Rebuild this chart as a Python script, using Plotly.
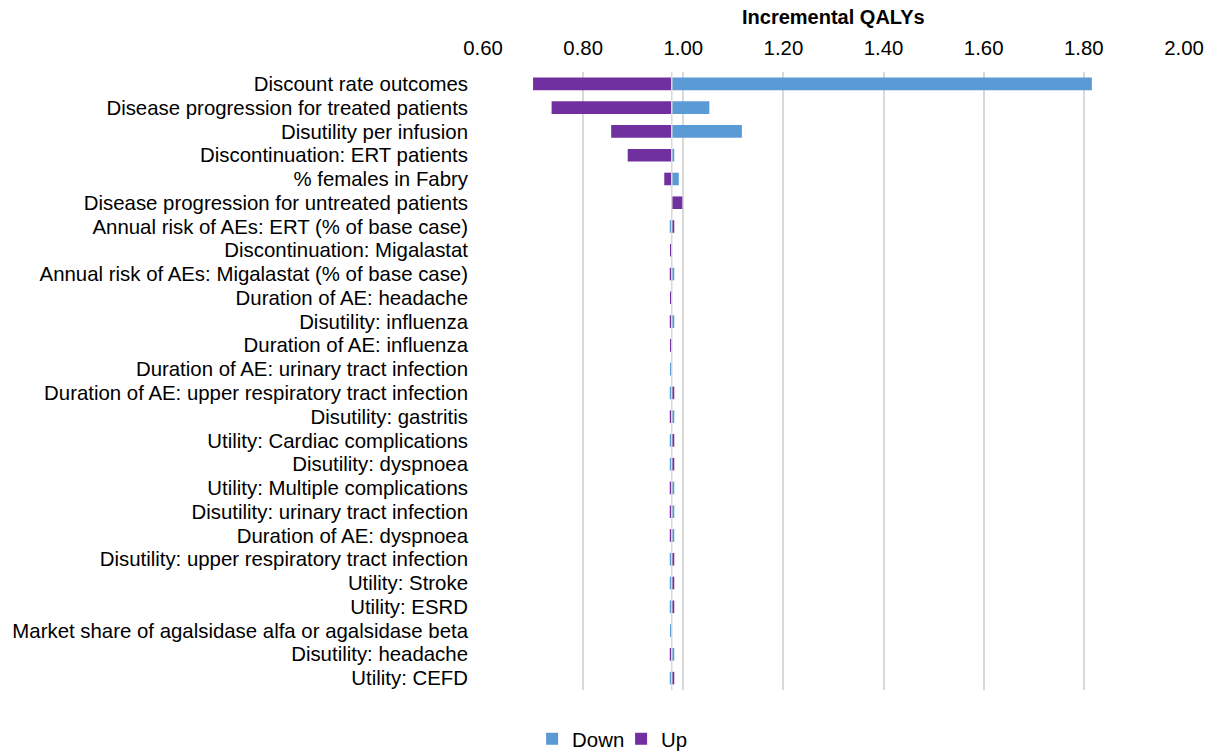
import plotly.graph_objects as go

categories = [
    "Discount rate outcomes",
    "Disease progression for treated patients",
    "Disutility per infusion",
    "Discontinuation: ERT patients",
    "% females in Fabry",
    "Disease progression for untreated patients",
    "Annual risk of AEs: ERT (% of base case)",
    "Discontinuation: Migalastat",
    "Annual risk of AEs: Migalastat (% of base case)",
    "Duration of AE: headache",
    "Disutility: influenza",
    "Duration of AE: influenza",
    "Duration of AE: urinary tract infection",
    "Duration of AE: upper respiratory tract infection",
    "Disutility: gastritis",
    "Utility: Cardiac complications",
    "Disutility: dyspnoea",
    "Utility: Multiple complications",
    "Disutility: urinary tract infection",
    "Duration of AE: dyspnoea",
    "Disutility: upper respiratory tract infection",
    "Utility: Stroke",
    "Utility: ESRD",
    "Market share of agalsidase alfa or agalsidase beta",
    "Disutility: headache",
    "Utility: CEFD",
]

base_value = 0.977

down_values = [1.816, 1.052, 1.117, 0.982, 0.991, 0.977, 0.973, 0.977, 0.982, 0.977,
               0.982, 0.977, 0.975, 0.973, 0.982, 0.973, 0.973, 0.982, 0.982, 0.982,
               0.973, 0.973, 0.973, 0.975, 0.982, 0.973]

up_values = [0.700, 0.737, 0.856, 0.889, 0.962, 0.998, 0.982, 0.974, 0.973, 0.975,
             0.973, 0.975, 0.977, 0.982, 0.973, 0.982, 0.982, 0.973, 0.973, 0.973,
             0.982, 0.982, 0.982, 0.977, 0.973, 0.982]

x_ticks = [0.6, 0.8, 1.0, 1.2, 1.4, 1.6, 1.8, 2.0]
x_tick_labels = ["0.60", "0.80", "1.00", "1.20", "1.40", "1.60", "1.80", "2.00"]

BLUE = "#5B9BD5"
PURPLE = "#7030A0"
FONT = "Liberation Sans, Arial, sans-serif"
FS = 20.4

fig = go.Figure()
fig.add_trace(go.Bar(
    name="Down", y=categories, x=[v - base_value for v in down_values],
    base=base_value, orientation="h", marker=dict(color=BLUE, line=dict(width=0)),
    width=0.53,
))
fig.add_trace(go.Bar(
    name="Up", y=categories, x=[v - base_value for v in up_values],
    base=base_value, orientation="h", marker=dict(color=PURPLE, line=dict(width=0)),
    width=0.53,
))

fig.add_shape(type="line", xref="x", yref="paper", x0=base_value, x1=base_value,
              y0=0, y1=1, line=dict(color="#D9D9D9", width=1.5), layer="above")

fig.add_annotation(text="<b>Incremental QALYs</b>", xref="paper", yref="paper",
                   x=0.5, y=(690 - 17) / 618, xanchor="center", yanchor="middle",
                   showarrow=False, font=dict(family=FONT, size=20, color="#000000"))

fig.update_layout(
    width=1208, height=755,
    margin=dict(l=483, r=24, t=72, b=65, autoexpand=False),
    paper_bgcolor="white", plot_bgcolor="white",
    barmode="overlay",
    font=dict(family=FONT, size=FS, color="#000000"),
    showlegend=True,
    legend=dict(orientation="h", x=0.197, xanchor="center", y=-(739 - 690) / 618,
                yanchor="middle", font=dict(family=FONT, size=FS),
                itemwidth=30, entrywidth=44, entrywidthmode="pixels",
                traceorder="normal"),
    xaxis=dict(side="top", range=[0.6, 2.0], tickvals=x_ticks, ticktext=x_tick_labels,
               showgrid=True, gridcolor="#D9D9D9", gridwidth=2, zeroline=False,
               showline=False, ticks="", ticklabelstandoff=12,
               tickfont=dict(family=FONT, size=FS)),
    yaxis=dict(autorange="reversed", showgrid=False, zeroline=False, showline=False,
               tickmode="array", tickvals=categories, ticktext=categories,
               ticks="", ticklabelstandoff=14, tickfont=dict(family=FONT, size=FS)),
)

fig.write_html(
    "out.html",
    config={"displayModeBar": False},
    post_script="document.body.style.margin='0';document.body.style.overflow='hidden';",
)
